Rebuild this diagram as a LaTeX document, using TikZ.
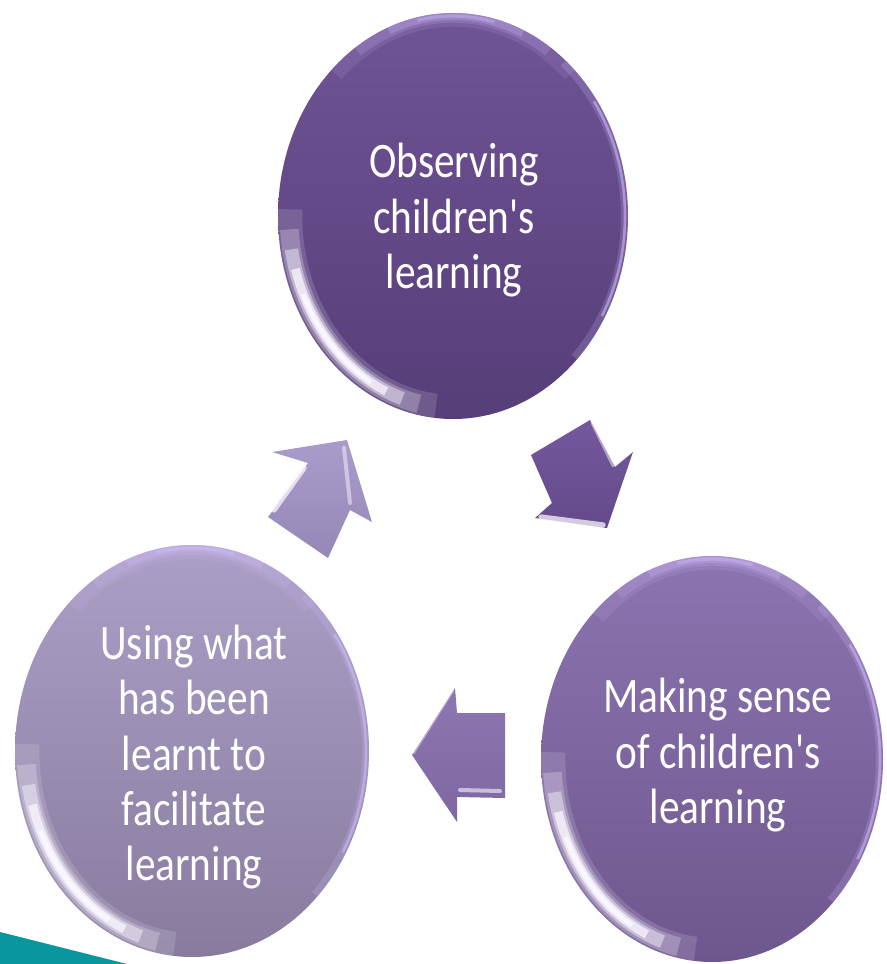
\documentclass[tikz,border=0pt]{standalone}
\usepackage{fontspec}
\setmainfont{Carlito}
\usepackage{tikz}

\definecolor{obsTop}{RGB}{112,84,150}
\definecolor{obsBot}{RGB}{86,62,120}
\definecolor{senseTop}{RGB}{140,116,176}
\definecolor{senseBot}{RGB}{110,86,142}
\definecolor{useTop}{RGB}{172,159,199}
\definecolor{useBot}{RGB}{136,123,158}
\definecolor{sheen}{RGB}{210,190,252}
\definecolor{glint}{RGB}{250,246,255}
\definecolor{stripe}{RGB}{10,150,158}

% rows of a caption, stretched a little in height
\newcommand{\tallrows}[1]{\scalebox{1}[1.2]{\begin{tabular}{@{}c@{}}#1\end{tabular}}}

\begin{document}
\begin{tikzpicture}[x=0.75pt,y=-0.75pt,
    caption/.style={text=white, font=\fontsize{31}{34.4}\selectfont, inner sep=0pt},
    bevel/.style={draw=glint, line cap=round, line join=round}]
\useasboundingbox (0,0) rectangle (886,964);

%Shape: teal band in the corner
\fill[stripe] (0,932) -- (127,964) -- (0,964) -- cycle;

\coordinate (obs) at (453,216);
\coordinate (sense) at (712,759);
\coordinate (use) at (192,751);

%Shape: Circles
\shade[top color=obsTop, bottom color=obsBot] (obs) ellipse [x radius=175, y radius=203];
\shade[top color=senseTop, bottom color=senseBot] (sense) ellipse [x radius=171, y radius=203];
\shade[top color=useTop, bottom color=useBot] (use) ellipse [x radius=177, y radius=206];

% glossy edges, layered so that the ends fade out
\foreach \c/\rx/\ry [evaluate=\rx as \ix using \rx-3, evaluate=\ry as \iy using \ry-3,
                     evaluate=\rx as \gx using \rx-11, evaluate=\ry as \gy using \ry-11] in {obs/175/203, sense/171/203, use/177/206} {
  \begin{scope}
    \clip (\c) ellipse [x radius=\rx, y radius=\ry];
    % sheen along the top
    \foreach \w/\o/\a/\b in {16/0.12/226/314, 10/0.18/236/304, 6/0.25/248/294, 2.5/0.4/258/284}
      \draw[sheen, line width=\w, opacity=\o] (\c) ++(\a:{\ix} and {\iy}) arc[start angle=\a, end angle=\b, x radius=\ix, y radius=\iy];
    % glint low on the left
    \foreach \w/\o/\a/\b in {20/0.15/96/182, 14/0.25/102/176, 10/0.45/108/170, 6.5/0.75/114/164, 3.5/1/120/156}
      \draw[glint, line width=\w, opacity=\o] (\c) ++(\a:{\gx} and {\gy}) arc[start angle=\a, end angle=\b, x radius=\gx, y radius=\gy];
    % light rim on the right
    \foreach \w/\o/\a/\b in {6/0.2/-50/45, 2/0.55/-35/30}
      \draw[sheen, line width=\w, opacity=\o] (\c) ++(\a:{\ix} and {\iy}) arc[start angle=\a, end angle=\b, x radius=\ix, y radius=\iy];
  \end{scope}
}

% Text Node
\node[caption] (obs text) at (454,222) {\tallrows{Observing\\children\textquotesingle s\\learning}};
% Text Node
\node[caption] (sense text) at (718,757) {\tallrows{Making sense\\of children\textquotesingle s\\learning}};
% Text Node
\node[caption] (use text) at (194,759) {\tallrows{Using what\\has been\\learnt to\\facilitate\\learning}};

%Shape: Arrow from top circle to right circle
\shade[top color={rgb,255:red,116;green,88;blue,158}, bottom color={rgb,255:red,100;green,74;blue,138}]
  (531,455) -- (590,420) -- (615,467) -- (633,452) -- (607,528) -- (535,518) -- (552,503) -- cycle;
\draw[bevel, line width=4, opacity=0.75] (541,517) -- (603,525);
\draw[bevel, line width=2, opacity=0.5] (592,423) -- (613,466);

%Shape: Arrow from right circle to left circle
\shade[top color={rgb,255:red,142;green,118;blue,178}, bottom color={rgb,255:red,126;green,104;blue,160}]
  (412,755) -- (455,688) -- (457,713) -- (505,713) -- (505,798) -- (457,797) -- (457,822) -- cycle;
\draw[bevel, line width=3, opacity=0.6] (460,790) -- (500,791);
\draw[bevel, line width=1.5, opacity=0.4] (414,753) -- (453,691);

%Shape: Arrow from left circle to top circle
\shade[top color={rgb,255:red,170;green,156;blue,202}, bottom color={rgb,255:red,150;green,136;blue,182}]
  (347,440) -- (372,522) -- (350,510) -- (328,558) -- (268,517) -- (308,463) -- (272,452) -- cycle;
\draw[bevel, line width=4, opacity=0.75] (304,468) -- (274,510);
\draw[bevel, line width=3, opacity=0.5] (344,448) -- (350,503);

\end{tikzpicture}
\end{document}
